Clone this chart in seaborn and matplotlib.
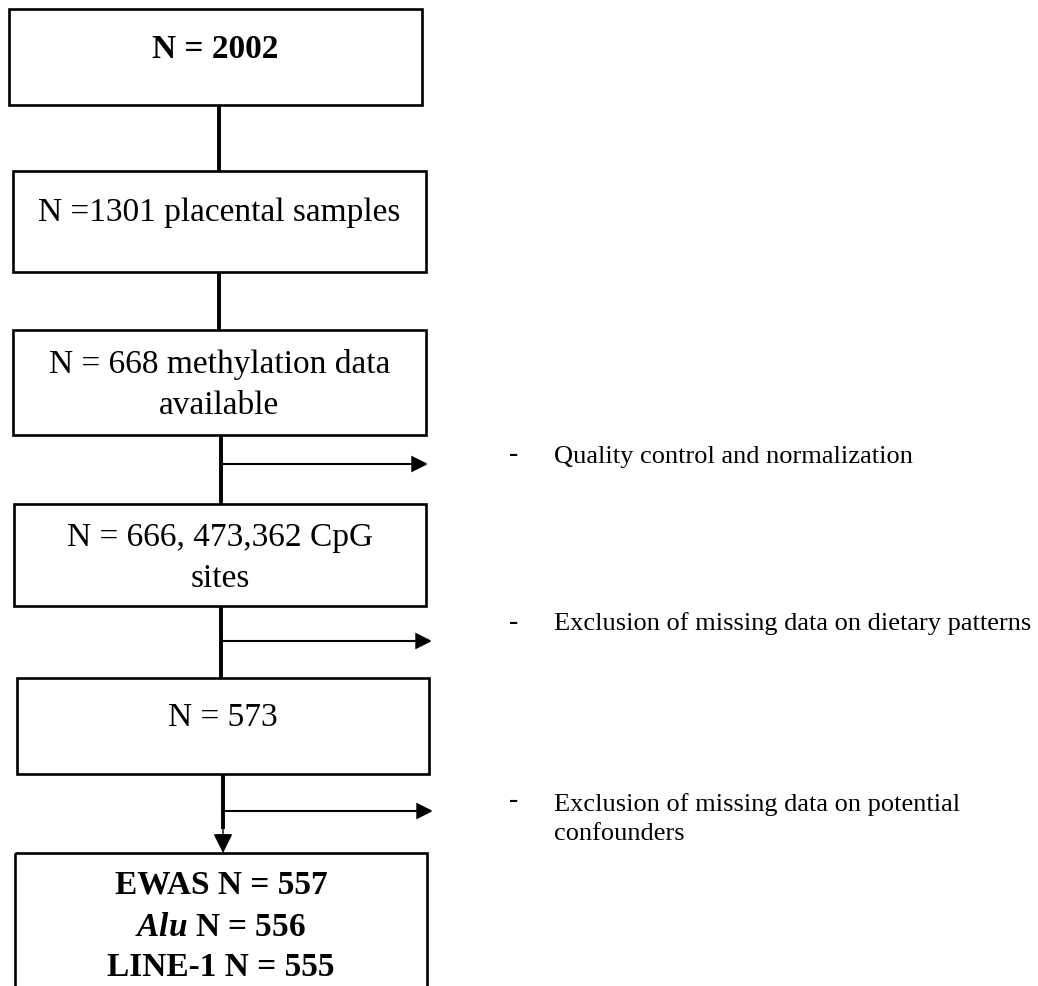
import matplotlib
matplotlib.use("Agg")
import matplotlib.pyplot as plt
import seaborn as sns
from matplotlib.patches import Rectangle

# FLOWCHART CONTENT
# -----------------------------------------------------------------------------
box_labels = ["N = 2002",
              "N =1301 placental samples",
              "N = 668 methylation data\navailable",
              "N = 666, 473,362 CpG\nsites",
              "N = 573"]
final_labels = ["EWAS N = 557",
                r"$\mathbfit{Alu}$ N = 556",
                "LINE-1 N = 555"]
exclusion_labels = ["Quality control and normalization",
                    "Exclusion of missing data on dietary patterns",
                    "Exclusion of missing data on potential\nconfounders"]

sns.set_theme(style="white")
plt.rcParams["font.family"] = ["Liberation Serif", "DejaVu Serif"]
plt.rcParams["text.color"] = "black"
plt.rcParams["mathtext.fontset"] = "custom"
plt.rcParams["mathtext.rm"] = "Liberation Serif"
plt.rcParams["mathtext.bf"] = "Liberation Serif:bold"
plt.rcParams["mathtext.it"] = "Liberation Serif:italic"
plt.rcParams["mathtext.bfit"] = "Liberation Serif:bold:italic"

fig = plt.figure(figsize=(10.38, 9.87), dpi=100)
ax = fig.add_axes([0, 0, 1, 1])
ax.set_xlim(0, 1038)
ax.set_ylim(987, 0)
ax.axis("off")

# box geometry in pixel units: (x0, x1, y0, y1, text_y)
boxes = [(9, 422, 10, 106, 49),
         (13, 426, 172, 273, 213),
         (13, 426, 331, 436, 385),
         (14, 426, 505, 607, 558),
         (17, 429, 679, 775, 718)]
box_bold = [True, False, False, False, False]

for (x0, x1, y0, y1, ty), label, bold in zip(boxes, box_labels, box_bold):
    ax.add_patch(Rectangle((x0, y0), x1 - x0, y1 - y0, fill=False, lw=1.9, ec="black"))
    ax.text((x0 + x1) / 2, ty, label, ha="center", va="center", fontsize=24,
            fontweight="bold" if bold else "normal", linespacing=1.45)

# final box (cut off at the bottom)
ax.add_patch(Rectangle((15, 854), 412, 200, fill=False, lw=1.9, ec="black"))
for label, ty in zip(final_labels, [885, 927, 968]):
    ax.text(221, ty, label, ha="center", va="center", fontsize=24, fontweight="bold")

# vertical connectors
connectors = [(219, 106, 172), (219, 273, 331), (221, 436, 505), (221, 607, 679)]
for x, y0, y1 in connectors:
    ax.plot([x, x], [y0, y1], color="black", lw=2.8, solid_capstyle="butt")
ax.plot([223, 223], [775, 830], color="black", lw=2.8, solid_capstyle="butt")
ax.annotate("", xy=(223, 854), xytext=(223, 826),
            arrowprops=dict(arrowstyle="-|>", lw=1.0, color="black",
                            mutation_scale=30, shrinkA=0, shrinkB=0, joinstyle="miter"))

# side arrows with exclusion notes
arrow_y = [465, 642, 812]
arrow_x = [(221, 428), (221, 432), (223, 433)]
text_y = [457, 624, 819]
dash_y = [455, 622, 801]
for (xa, xb), ya, ty, dy, label in zip(arrow_x, arrow_y, text_y, dash_y, exclusion_labels):
    ax.annotate("", xy=(xb, ya), xytext=(xa, ya),
                arrowprops=dict(arrowstyle="-|>", lw=1.5, color="black",
                                mutation_scale=24, shrinkA=0, shrinkB=0, joinstyle="miter"))
    ax.text(514, dy, "-", ha="center", va="center", fontsize=20)
    ax.text(554, ty, label, ha="left", va="center", fontsize=19, linespacing=1.45)

fig.savefig("out.png", dpi=100, facecolor="white")
plt.close(fig)
